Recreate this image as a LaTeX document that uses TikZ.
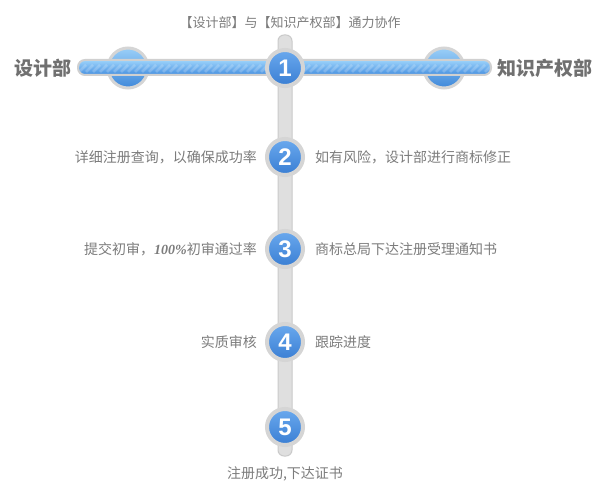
\documentclass[tikz,border=0pt]{standalone}
\usepackage{fontspec}
\setmainfont{Noto Sans CJK SC}
\newfontfamily\numfont{Liberation Sans}
\newfontfamily\pctfont{Liberation Serif}
\usetikzlibrary{positioning,calc}
\definecolor{txtgray}{HTML}{7C7C7C}
\definecolor{headgray}{HTML}{707070}
\definecolor{trackfill}{HTML}{DFDFDF}
\definecolor{trackline}{HTML}{CACACA}
\definecolor{ringgray}{HTML}{D5D5D5}
\definecolor{ballTop}{HTML}{6AA9EE}
\definecolor{ballBot}{HTML}{3A7ED3}
\definecolor{sideTop}{HTML}{9ACFF8}
\definecolor{sideBot}{HTML}{3F88DA}
\definecolor{barTop}{HTML}{9DD3FB}
\definecolor{barMid}{HTML}{5BABF1}
\definecolor{barBot}{HTML}{4690E0}
\definecolor{barRing}{HTML}{D0D0D0}
\tikzset{
  stepball/.style={circle, minimum size=36pt, inner sep=0pt, top color=ballTop, bottom color=ballBot,
    draw=ringgray, line width=4pt, text=white, font=\numfont\bfseries\fontsize{24}{24}\selectfont},
  sideball/.style={circle, minimum size=40pt, inner sep=0pt, top color=sideTop, bottom color=sideBot,
    draw=ringgray, line width=3pt},
  steptext/.style={text=txtgray, inner sep=0pt, font=\fontsize{14}{16}\selectfont},
  headtext/.style={text=headgray, inner sep=0pt, font=\bfseries\fontsize{19}{21}\selectfont}
}
\begin{document}
\begin{tikzpicture}[x=1pt,y=-1pt]
    \useasboundingbox[fill=white] (0,0) rectangle (600,495);

    % Vertical track
    \draw[draw=trackline, fill=trackfill, line width=1pt, rounded corners=6pt] (278,35) rectangle (292,456);

    % Side balls
    \node[sideball] (designball) at (128,68) {};
    \node[sideball] (ipball) at (444,68) {};

    % Horizontal bar with stripes
    \begin{scope}
        \clip[rounded corners=7pt] (78,60) rectangle (491,75);
        \shade[top color=barTop, middle color=barMid, bottom color=barBot] (78,60) rectangle (491,75);
        \foreach \x in {72,79,...,500}
            \draw[white, opacity=0.2, line width=2.5pt] (\x,72) -- (\x+7,65);
    \end{scope}
    \draw[draw=barRing, line width=2pt, rounded corners=7pt] (78,60) rectangle (491,75);

    % Step balls
    \foreach \n/\y in {1/68,2/157,3/249,4/342,5/427}
        \node[stepball] (s\n) at (285,\y) {\n};

    % Headings
    \node[headtext, anchor=east] (design) at (72,68) {设计部};
    \node[headtext, anchor=west] (ip) at (497,68) {知识产权部};
    \node[steptext, font=\fontsize{13}{15}\selectfont] (title) at (290,23) {【设计部】与【知识产权部】通力协作};

    % Step labels
    \node[steptext, left=8pt of s2] (s2l) {详细注册查询，以确保成功率};
    \node[steptext, right=10pt of s2] (s2r) {如有风险，设计部进行商标修正};
    \node[steptext, left=8pt of s3] (s3l) {提交初审，{\pctfont\bfseries\itshape 100\%}初审通过率};
    \node[steptext, right=10pt of s3] (s3r) {商标总局下达注册受理通知书};
    \node[steptext, left=8pt of s4] (s4l) {实质审核};
    \node[steptext, right=10pt of s4] (s4r) {跟踪进度};
    \node[steptext, below=19pt of s5] (s5b) {注册成功,下达证书};
\end{tikzpicture}
\end{document}
